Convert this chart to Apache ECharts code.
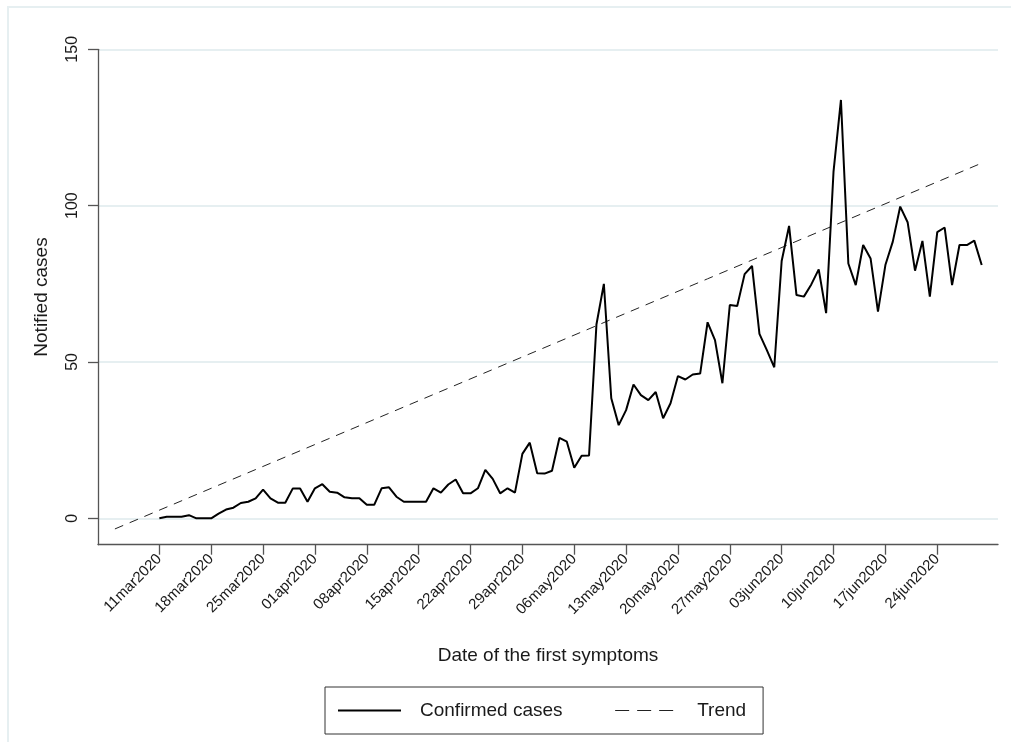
<!DOCTYPE html>
<html>
<head>
<meta charset="utf-8">
<script src="https://cdn.jsdelivr.net/npm/echarts@6/dist/echarts.min.js"></script>
<style>
  html, body { margin: 0; padding: 0; background: #fff; }
  #chart { width: 1011px; height: 742px; }
</style>
</head>
<body>
<div id="chart"></div>
<script>
// Day offsets are counted from 11mar2020 (day 0) to 30jun2020 (day 111)
const tickLabels = ['11mar2020','18mar2020','25mar2020','01apr2020','08apr2020','15apr2020','22apr2020','29apr2020',
  '06may2020','13may2020','20may2020','27may2020','03jun2020','10jun2020','17jun2020','24jun2020'];
const tickDays = [0,7,14,21,28,35,42,49,56,63,70,77,84,91,98,105];

const confirmedCases = [
  0, 0.5, 0.5, 0.5, 1, 0, 0, 0,
  1.5, 2.8, 3.4, 4.9, 5.3, 6.4, 9.2, 6.4, 5.0, 5.0, 9.5, 9.5, 5.3, 9.6, 10.9, 8.5,
  8.2, 6.7, 6.4, 6.4,
  4.3, 4.3,
  9.6, 9.9, 6.9, 5.3, 5.3, 5.3, 5.3, 9.6, 8.2, 10.8, 12.4, 8.0, 8.0, 9.6, 15.5, 12.6, 8.0, 9.6, 8.2,
  20.6, 24.2, 14.4, 14.3, 15.2, 25.7, 24.5, 16.2, 20.0, 20.1,
  62, 75,
  38.4, 29.8, 34.6, 42.8, 39.4, 37.8, 40.4, 32.0, 36.8, 45.5, 44.4, 46.0, 46.3,
  62.7, 57, 43.2, 68.2, 67.9, 78.1, 80.7, 59, 53.8, 48.3,
  82.3, 93.5, 71.4, 70.9, 74.8, 79.6, 65.6, 110.9, 133.8, 81.5, 74.6, 87.4, 83.1, 66.1,
  81, 88.5, 99.7, 94.7, 79.2, 88.7, 70.9, 91.5, 93, 74.6, 87.4, 87.4, 88.8, 81
];

const trendDays = [-6, 37, 74, 111];
const trendValues = [-3.4, 39.6, 76.6, 113.6];

const yTicks = [0, 50, 100, 150];

const chart = echarts.init(document.getElementById('chart'), null, { renderer: 'canvas' });
const font = '"Liberation Sans", Arial, sans-serif';
const textColor = '#1a1a1a';
const axisColor = '#555';

chart.setOption({
  backgroundColor: '#fff',
  animation: false,
  textStyle: { fontFamily: font },
  graphic: [{
    type: 'rect', silent: true,
    shape: { x: 8, y: 7, width: 1010, height: 740 },
    style: { fill: 'none', stroke: '#e6eff1', lineWidth: 2 }
  }],
  grid: { left: 98, right: 13, top: 49.3, bottom: 197.3, containLabel: false },
  legend: {
    left: 325, top: 687,
    orient: 'horizontal',
    borderColor: '#333', borderWidth: 1,
    padding: [14, 17, 14, 12],
    itemWidth: 63, itemHeight: 14, itemGap: 52,
    itemStyle: { color: 'transparent', borderWidth: 0, opacity: 0 },
    textStyle: { fontSize: 19, color: textColor, fontFamily: font, padding: [0, 0, 0, 14] },
    data: [
      { name: 'Confirmed cases' },
      { name: 'Trend', lineStyle: { type: [14, 8], width: 1.2 } }
    ]
  },
  xAxis: {
    type: 'value',
    min: -8.28, max: 113.2,
    name: 'Date of the first symptoms',
    nameLocation: 'middle', nameGap: 102,
    nameTextStyle: { fontSize: 19, color: textColor, fontFamily: font },
    axisLine: { show: true, onZero: false, lineStyle: { color: axisColor, width: 1.3 } },
    axisTick: { show: true, length: 10, customValues: tickDays, lineStyle: { color: axisColor, width: 1.3 } },
    axisLabel: {
      customValues: tickDays, rotate: 45, margin: 12, fontSize: 15, color: textColor, fontFamily: font,
      formatter: v => tickLabels[tickDays.indexOf(Math.round(v))] || ''
    },
    splitLine: { show: false }
  },
  yAxis: {
    type: 'value',
    min: -8.44, max: 150,
    name: 'Notified cases',
    nameLocation: 'middle', nameGap: 47, nameRotate: 90,
    nameTextStyle: { fontSize: 19, color: textColor, fontFamily: font },
    axisLine: { show: true, onZero: false, lineStyle: { color: axisColor, width: 1.3 } },
    axisTick: { show: true, length: 10, customValues: yTicks, lineStyle: { color: axisColor, width: 1.3 } },
    axisLabel: { customValues: yTicks, rotate: 90, margin: 17, fontSize: 16, color: textColor, fontFamily: font },
    splitLine: { show: true, lineStyle: { color: '#e6eff1', width: 2 } }
  },
  series: [
    {
      name: 'Confirmed cases',
      type: 'line',
      symbol: 'none',
      lineStyle: { color: '#000', width: 2 },
      itemStyle: { color: '#000' },
      data: confirmedCases.map((v, i) => [i, v]),
      z: 3
    },
    {
      name: 'Trend',
      type: 'line',
      symbol: 'none',
      lineStyle: { color: '#222', width: 1, type: [9, 7] },
      itemStyle: { color: '#222' },
      data: trendDays.map((d, i) => [d, trendValues[i]]),
      z: 2
    }
  ]
});
</script>
</body>
</html>
